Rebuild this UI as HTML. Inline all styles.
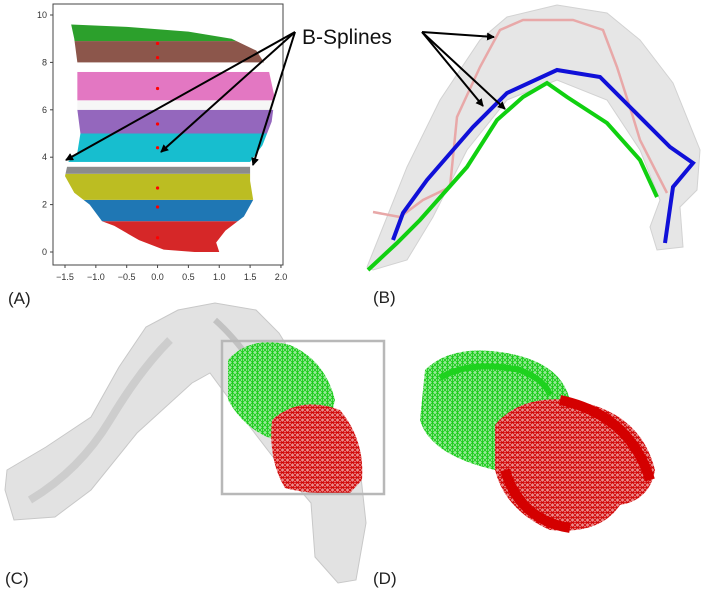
<!DOCTYPE html>
<html><head><meta charset="utf-8"><style>
html,body{margin:0;padding:0;background:#fff;width:708px;height:591px;overflow:hidden}
svg{display:block;font-family:"Liberation Sans",sans-serif}
</style></head><body>
<svg id="fig" width="708" height="591" viewBox="0 0 708 591">
<defs>
<clipPath id="blobClip"><polygon id="blobPoly" points=""/></clipPath>
<marker id="ah" markerWidth="8" markerHeight="8" refX="7" refY="4" orient="auto" markerUnits="userSpaceOnUse"><path d="M0,0 L8,4 L0,8 z" fill="#000"/></marker>
<pattern id="gn" width="5" height="5" patternUnits="userSpaceOnUse"><rect width="5" height="5" fill="#9be89b"/><path d="M0,0 L5,5 M5,0 L0,5 M2.5,0 L2.5,5" stroke="#14cc14" stroke-width="0.8"/></pattern>
<pattern id="rd" width="5" height="5" patternUnits="userSpaceOnUse"><rect width="5" height="5" fill="#eb8c8c"/><path d="M0,0 L5,5 M5,0 L0,5 M0,2.5 L5,2.5" stroke="#d00000" stroke-width="0.8"/></pattern>
</defs>

<g id="panelA">
  <g id="bands" clip-path="url(#blobClip)"></g>
  <g id="dots"></g>
  <rect x="53" y="4" width="230" height="261" fill="none" stroke="#444" stroke-width="1"/>
  <g id="xticks" font-size="9" fill="#333"></g>
  <g id="yticks" font-size="9" fill="#333"></g>
</g>

<g id="panelB">
  <polygon fill="#e6e6e6" stroke="#d2d2d2" stroke-width="1"
   points="367,267 407,167 440,100 480,40 507,17 557,5 607,13 640,40 673,83 700,150 697,190 680,207 683,247 657,250 650,227 660,200 640,150 607,100 557,80 507,100 467,150 433,217 407,260 373,270"/>
  <polyline fill="none" stroke="#e8a8a8" stroke-width="2.5"
   points="373,212 400,217 423,200 450,187 457,117 480,67 500,30 523,20 573,20 603,30 617,67 633,117 640,140 667,193"/>
  <polyline fill="none" stroke="#10d010" stroke-width="4"
   points="368,270 397,243 420,220 467,167 497,120 523,97 547,83 567,97 607,123 640,160 657,197"/>
  <polyline fill="none" stroke="#1010d8" stroke-width="4"
   points="393,240 403,213 427,180 473,127 507,93 557,70 600,77 633,110 670,147 693,163 673,187 665,243"/>
</g>

<g stroke="#000" stroke-width="2" marker-end="url(#ah)">
  <line x1="295" y1="32" x2="66" y2="160"/>
  <line x1="295" y1="32" x2="161" y2="152"/>
  <line x1="295" y1="32" x2="253" y2="165"/>
  <line x1="422" y1="32" x2="494" y2="37"/>
  <line x1="422" y1="32" x2="483" y2="106"/>
  <line x1="422" y1="32" x2="505" y2="109"/>
</g>
<text x="302" y="44" font-size="21" fill="#111">B-Splines</text>

<g id="panelC">
  <polygon fill="#e2e2e2" stroke="#c8c8c8"
   points="7,470 46,447 91,417 119,367 146,327 178,310 215,303 256,310 279,333 320,400 361,477 366,523 356,580 338,583 315,557 311,503 283,470 247,423 210,373 192,383 137,433 91,490 55,517 14,520 5,490"/>
  <path d="M30,500 Q80,470 110,420 T170,340" fill="none" stroke="#cdcdcd" stroke-width="8"/>
  <path d="M215,320 Q260,360 300,450" fill="none" stroke="#c2c2c2" stroke-width="6"/>
  <path d="M228,360 Q250,335 290,345 Q325,360 335,400 L330,420 Q300,425 275,440 Q245,430 228,400 Z" fill="url(#gn)"/>
  <path d="M272,420 Q300,395 340,410 Q365,440 362,480 L350,493 Q310,495 285,488 Q268,460 272,420 Z" fill="url(#rd)"/>
  <rect x="222" y="341" width="162" height="153" fill="none" stroke="#b8b8b8" stroke-width="2.5"/>
</g>

<g id="panelD">
  <path d="M425,370 Q450,345 500,352 Q560,360 570,400 L560,430 Q520,470 495,470 Q430,455 420,420 Z" fill="url(#gn)"/>
  <path d="M440,378 Q470,360 520,370 Q545,380 550,395" fill="none" stroke="#1ed21e" stroke-width="6"/>
  <path d="M495,425 Q520,395 570,400 Q640,410 655,470 Q650,500 620,505 Q600,535 550,530 Q505,510 495,470 Z" fill="url(#rd)"/>
  <path d="M560,400 Q630,415 650,480" fill="none" stroke="#d40000" stroke-width="10"/>
  <path d="M505,470 Q520,520 570,528" fill="none" stroke="#d40000" stroke-width="10"/>
</g>

<g font-size="17" fill="#222">
  <text x="8" y="304">(A)</text>
  <text x="373" y="303">(B)</text>
  <text x="5" y="584">(C)</text>
  <text x="373" y="584">(D)</text>
</g>
</svg>
<script>
const NS="http://www.w3.org/2000/svg";
// data
const bandLow=[0,1.3,2.2,3.3,3.6,3.8,5.0,6.0,6.4,7.6,8.0,8.9];
const bandHigh=[1.3,2.2,3.3,3.6,3.8,5.0,6.0,6.4,7.6,8.0,8.9,9.7];
const bandColors=["#d62728","#1f77b4","#bcbd22","#8c8c8c","#ffffff","#17becf","#9467bd","#f6f6f6","#e377c2","#ffffff","#8c564b","#2ca02c"];
const outlineX=[-1.4,-1.35,-1.3,-1.3,-1.3,-1.25,-1.3,-1.45,-1.5,-1.35,-1.1,-0.9,-0.7,-0.3,0.1,0.6,1.0,0.95,1.1,1.4,1.55,1.5,1.5,1.7,1.85,1.9,1.8,1.6,1.2,0.5,-0.5];
const outlineY=[9.6,9.0,8.0,7.0,6.0,5.0,4.2,3.8,3.2,2.5,2.0,1.3,1.1,0.5,0.1,0.0,0.0,0.4,0.9,1.5,2.2,3.0,3.8,4.5,5.5,6.5,7.7,8.5,9.0,9.3,9.5];
const centerY=[8.8,8.2,6.9,5.4,4.4,2.7,1.9,0.6];
const xTicks=[-1.5,-1.0,-0.5,0.0,0.5,1.0,1.5,2.0];
const yTicks=[0,2,4,6,8,10];
const xTickLabels=["\u22121.5","\u22121.0","\u22120.5","0.0","0.5","1.0","1.5","2.0"];
const yTickLabels=["0","2","4","6","8","10"];
// axes
const sx=v=>65+(v+1.5)*61.7;
const sy=v=>252-v*23.7;
document.getElementById('blobPoly').setAttribute('points',outlineX.map((x,i)=>sx(x)+","+sy(outlineY[i])).join(" "));
const bands=document.getElementById('bands');
bandLow.forEach((lo,i)=>{
  const r=document.createElementNS(NS,'rect');
  r.setAttribute('x',53);r.setAttribute('width',230);
  r.setAttribute('y',sy(bandHigh[i]));r.setAttribute('height',sy(lo)-sy(bandHigh[i]));
  r.setAttribute('fill',bandColors[i]);
  
  
  bands.appendChild(r);
});
const dots=document.getElementById('dots');
centerY.forEach((v,i)=>{
  const c=document.createElementNS(NS,'circle');
  c.setAttribute('cx',sx(0));c.setAttribute('cy',sy(v));c.setAttribute('r',1.6);c.setAttribute('fill','#ff0000');
  
  
  dots.appendChild(c);
});
const xt=document.getElementById('xticks');
xTicks.forEach((v,i)=>{
  const l=document.createElementNS(NS,'line');
  l.setAttribute('x1',sx(v));l.setAttribute('x2',sx(v));l.setAttribute('y1',265);l.setAttribute('y2',268);l.setAttribute('stroke','#444');
  xt.appendChild(l);
  const t=document.createElementNS(NS,'text');
  t.setAttribute('x',sx(v));t.setAttribute('y',280);t.setAttribute('text-anchor','middle');t.textContent=xTickLabels[i];
  
  
  xt.appendChild(t);
});
const yt=document.getElementById('yticks');
yTicks.forEach((v,i)=>{
  const l=document.createElementNS(NS,'line');
  l.setAttribute('x1',50);l.setAttribute('x2',53);l.setAttribute('y1',sy(v));l.setAttribute('y2',sy(v));l.setAttribute('stroke','#444');
  yt.appendChild(l);
  const t=document.createElementNS(NS,'text');
  t.setAttribute('x',47);t.setAttribute('y',sy(v)+3);t.setAttribute('text-anchor','end');t.textContent=yTickLabels[i];
  
  
  yt.appendChild(t);
});
</script>
</body></html>
